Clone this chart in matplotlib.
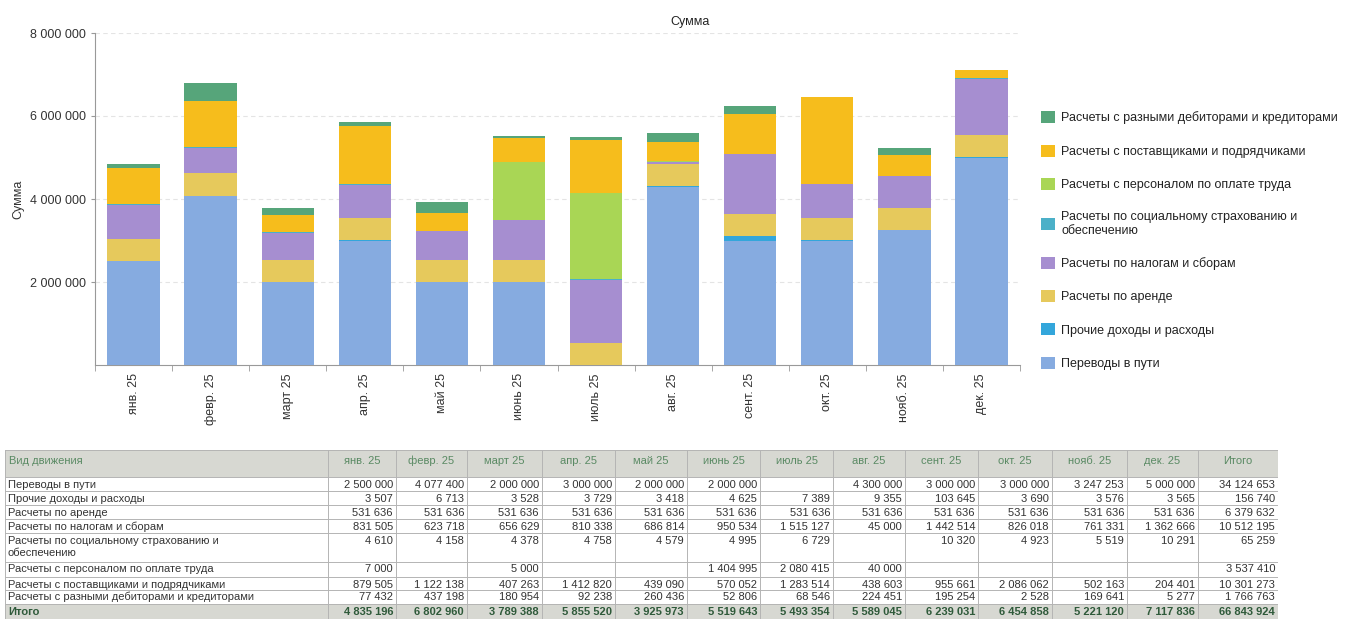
import numpy as np
import matplotlib.pyplot as plt
from matplotlib.patches import Rectangle, Patch
from matplotlib.ticker import FuncFormatter

plt.rcParams['font.family'] = ['Liberation Sans', 'DejaVu Sans']

months = ['янв. 25', 'февр. 25', 'март 25', 'апр. 25', 'май 25', 'июнь 25',
          'июль 25', 'авг. 25', 'сент. 25', 'окт. 25', 'нояб. 25', 'дек. 25']

# series in stacking order (bottom -> top), None = empty cell in the table
perevody = [2500000, 4077400, 2000000, 3000000, 2000000, 2000000, None, 4300000, 3000000, 3000000, 3247253, 5000000]
prochie = [3507, 6713, 3528, 3729, 3418, 4625, 7389, 9355, 103645, 3690, 3576, 3565]
arenda = [531636] * 12
nalogi = [831505, 623718, 656629, 810338, 686814, 950534, 1515127, 45000, 1442514, 826018, 761331, 1362666]
social = [4610, 4158, 4378, 4758, 4579, 4995, 6729, None, 10320, 4923, 5519, 10291]
personal = [7000, None, 5000, None, None, 1404995, 2080415, 40000, None, None, None, None]
postav = [879505, 1122138, 407263, 1412820, 439090, 570052, 1283514, 438603, 955661, 2086062, 502163, 204401]
debitory = [77432, 437198, 180954, 92238, 260436, 52806, 68546, 224451, 195254, 2528, 169641, 5277]

names = ['Переводы в пути', 'Прочие доходы и расходы', 'Расчеты по аренде',
         'Расчеты по налогам и сборам', 'Расчеты по социальному страхованию и\nобеспечению',
         'Расчеты с персоналом по оплате труда', 'Расчеты с поставщиками и подрядчиками',
         'Расчеты с разными дебиторами и кредиторами']
series = [perevody, prochie, arenda, nalogi, social, personal, postav, debitory]
colors = ['#86abe0', '#33a6db', '#e6c95c', '#a68ed0', '#4bb0c8', '#a9d655', '#f6bd1c', '#56a57a']

row_totals = [34124653, 156740, 6379632, 10512195, 65259, 3537410, 10301273, 1766763]
col_totals = [4835196, 6802960, 3789388, 5855520, 3925973, 5519643, 5493354, 5589045,
              6239031, 6454858, 5221120, 7117836]
grand_total = 66843924


def fmt(v):
    if v is None:
        return ''
    return '{:,}'.format(int(v)).replace(',', ' ')


fig = plt.figure(figsize=(13.6, 6.3), dpi=100)

# ---- chart ----
ax = fig.add_axes([95 / 1360, 1 - 365 / 630, 925 / 1360, 332 / 630])
x = np.arange(len(months))
bottom = np.zeros(len(months))
for vals, col, name in zip(series, colors, names):
    v = np.array([0 if a is None else a for a in vals], dtype=float)
    ax.bar(x, v, 0.68, bottom=bottom, color=col, label=name, zorder=3)
    bottom += v

ax.set_xlim(-0.45, 11.4)
ax.set_ylim(0, 8000000)
ax.set_yticks([2000000, 4000000, 6000000, 8000000])
ax.yaxis.set_major_formatter(FuncFormatter(lambda v, p: fmt(v)))
ax.grid(axis='y', color='#e4e4e4', linestyle=(0, (4, 3)), linewidth=0.8, zorder=0)
ax.set_xticks(x)
ax.set_xticklabels(months, rotation=90, fontsize=9, color='#333333')
ax.set_xticks(np.arange(-0.5, 12, 1), minor=True)
ax.tick_params(axis='x', which='major', length=0, pad=6)
ax.tick_params(axis='x', which='minor', length=4, color='#999999')
ax.tick_params(axis='y', labelsize=9, labelcolor='#333333', length=3, color='#999999')
for s in ['top', 'right']:
    ax.spines[s].set_visible(False)
for s in ['left', 'bottom']:
    ax.spines[s].set_color('#999999')
    ax.spines[s].set_linewidth(0.8)
ax.set_ylabel('Сумма', fontsize=9, color='#333333', labelpad=4)
fig.text(690 / 1360, 1 - 22 / 630, 'Сумма', fontsize=9, color='#222222', ha='center', va='center')

handles = [Patch(facecolor=c, edgecolor='none') for c in colors][::-1]
fig.legend(handles, names[::-1], loc='upper left', bbox_to_anchor=(1030 / 1360, 1 - 100 / 630),
           frameon=False, fontsize=9, labelspacing=1.6, handlelength=1.1, handleheight=1.1,
           handletextpad=0.5, labelcolor='#222222')

# ---- table ----
col_edges = [5, 328, 396, 467, 542, 615, 687, 760, 833, 905, 978, 1052, 1127, 1198, 1278]
row_edges = [450, 477, 491, 505, 519, 533, 562, 577, 590, 604, 619]
tx = fig.add_axes([5 / 1360, 1 - 619 / 630, 1273 / 1360, 169 / 630])
tx.set_xlim(col_edges[0], col_edges[-1])
tx.set_ylim(row_edges[-1], row_edges[0])
tx.axis('off')

head_bg = '#d7d8d2'
head_fg = '#5a8a64'
line_c = '#b4b4b4'
fs = 8

# header and total row backgrounds
tx.add_patch(Rectangle((col_edges[0], row_edges[0]), col_edges[-1] - col_edges[0],
                       row_edges[1] - row_edges[0], facecolor=head_bg, edgecolor='none'))
tx.add_patch(Rectangle((col_edges[0], row_edges[-2]), col_edges[-1] - col_edges[0],
                       row_edges[-1] - row_edges[-2], facecolor=head_bg, edgecolor='none'))
for xe in col_edges:
    tx.plot([xe, xe], [row_edges[0], row_edges[-1]], color=line_c, lw=0.7)
for ye in row_edges:
    tx.plot([col_edges[0], col_edges[-1]], [ye, ye], color=line_c, lw=0.7)

hy = row_edges[0] + 14
tx.text(col_edges[0] + 4, hy, 'Вид движения', fontsize=fs, color=head_fg, va='baseline', ha='left')
for j, m in enumerate(months + ['Итого']):
    xc = (col_edges[j + 1] + col_edges[j + 2]) / 2
    tx.text(xc, hy, m, fontsize=fs, color=head_fg, va='baseline', ha='center')

for i in range(len(series)):
    by = row_edges[i + 1] + 10.5
    for k, line in enumerate(names[i].split('\n')):
        tx.text(col_edges[0] + 3, by + k * 12, line, fontsize=fs, color='#333333',
                va='baseline', ha='left')
    for j, v in enumerate(series[i]):
        tx.text(col_edges[j + 2] - 3, by, fmt(v), fontsize=fs, color='#333333',
                va='baseline', ha='right')
    tx.text(col_edges[-1] - 3, by, fmt(row_totals[i]), fontsize=fs, color='#333333',
            va='baseline', ha='right')

by = row_edges[-2] + 11
tx.text(col_edges[0] + 3, by, 'Итого', fontsize=fs, color='#2f5a3a', weight='bold',
        va='baseline', ha='left')
for j, v in enumerate(col_totals + [grand_total]):
    tx.text(col_edges[j + 2] - 3, by, fmt(v), fontsize=fs, color='#2f5a3a',
            weight='bold', va='baseline', ha='right')

fig.savefig('out.png', dpi=100)
